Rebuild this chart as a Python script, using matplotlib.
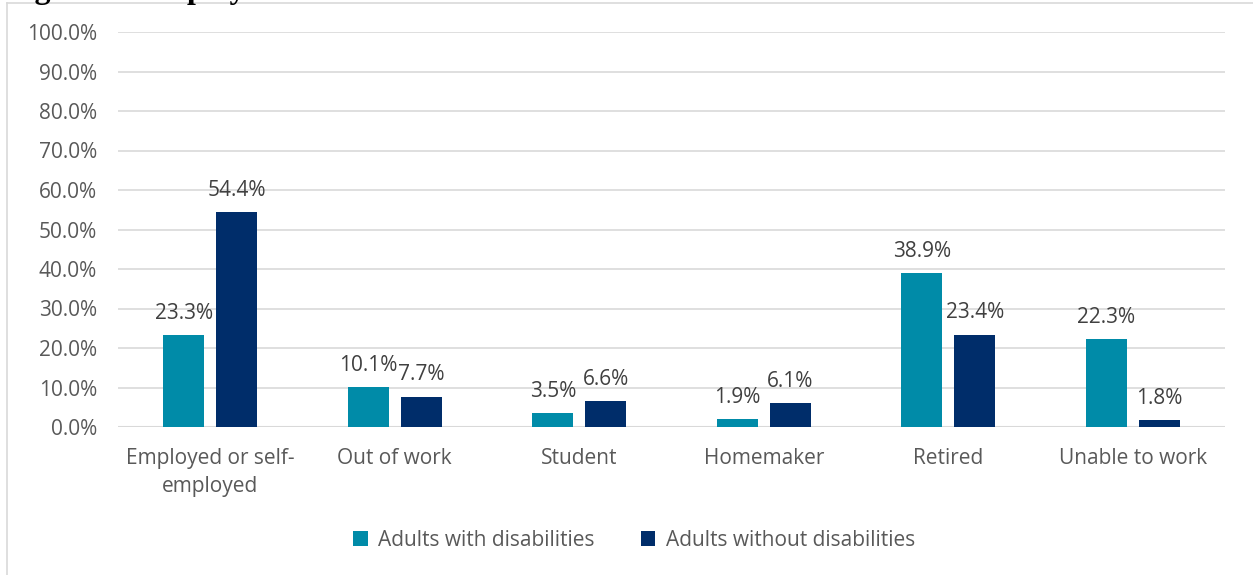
import matplotlib.pyplot as plt
import numpy as np

# ─── DATA ───────────────────────────────────────────────
categories = ['Employed or self-\nemployed', 'Out of work', 'Student',
              'Homemaker', 'Retired', 'Unable to work']
with_dis    = [23.3, 10.1, 3.5, 1.9, 38.9, 22.3]
without_dis = [54.4, 7.7, 6.6, 6.1, 23.4, 1.8]
series_names = ['Adults with disabilities', 'Adults without disabilities']
yticks = np.arange(0, 101, 10)

TEAL = '#008BA8'
NAVY = '#002D6A'
GRID = '#D9D9D9'
TXT  = '#595959'
FS = 15

plt.rcParams['font.family'] = ['Open Sans', 'DejaVu Sans']

fig = plt.figure(figsize=(12.53, 5.75), dpi=100)
ax = fig.add_axes([118/1253, 1 - 427/575, 1107/1253, 395/575])

# frame around the chart area
W, H = 1253, 575
fig.add_artist(plt.Line2D([7/W, 1], [1 - 3/H, 1 - 3/H], color=GRID, lw=1.2))
fig.add_artist(plt.Line2D([7/W, 7/W], [0, 1 - 3/H], color=GRID, lw=1.2))

# heading sits above the crop, only descenders show
fig.text(6/W, 1 + 2/H, 'Figure 2: Employment Status', fontsize=23,
         fontweight='bold', family='Liberation Serif', va='baseline', ha='left')

x = np.arange(len(categories))
width = 0.222
off = 0.1436

bars1 = ax.bar(x - off, with_dis, width, color=TEAL, label=series_names[0], zorder=3)
bars2 = ax.bar(x + off, without_dis, width, color=NAVY, label=series_names[1], zorder=3)

# value labels above bars
for bars in (bars1, bars2):
    for bar in bars:
        ax.annotate(f'{bar.get_height():.1f}%',
                    (bar.get_x() + bar.get_width()/2, bar.get_height()),
                    xytext=(0, 8), textcoords='offset points',
                    ha='center', va='bottom', fontsize=FS, color='#404040')

ax.set_xlim(-0.5, len(categories) - 0.5)
ax.set_ylim(0, 100)
ax.set_yticks(yticks)
ax.set_yticklabels([f'{v:.1f}%' for v in yticks], fontsize=FS, color=TXT)
ax.set_xticks(x)
ax.set_xticklabels(categories, fontsize=FS, color=TXT, linespacing=1.45)
ax.tick_params(axis='both', length=0)
ax.tick_params(axis='y', pad=15)
ax.tick_params(axis='x', pad=15)
ax.grid(axis='y', color=GRID, lw=1.2, zorder=0)
for s in ax.spines.values():
    s.set_visible(False)
ax.axhline(0, color=GRID, lw=1.5, zorder=2)

fig.legend(handles=[bars1, bars2], loc='center', bbox_to_anchor=(634/W, 1 - 540/H),
           ncol=2, frameon=False, fontsize=FS, labelcolor=TXT,
           handlelength=0.7, handleheight=0.7, handletextpad=0.5, columnspacing=2.2)

fig.savefig('out.png', dpi=100)
